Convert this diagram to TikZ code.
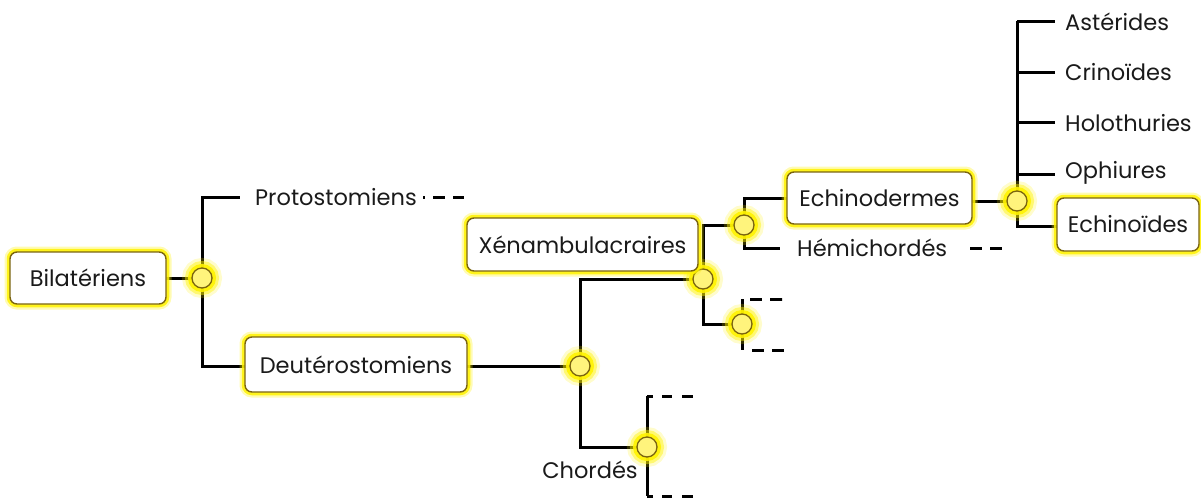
\documentclass[tikz,border=0pt]{standalone}
\usepackage{fontspec}
\setmainfont{Poppins}
\definecolor{boxedge}{HTML}{7A6410}
\definecolor{knotfill}{HTML}{FFF47C}
\definecolor{glow}{HTML}{FFF200}
\definecolor{ink}{HTML}{1A1A1A}
\newcommand{\txtfont}{\fontsize{22.5}{26}\selectfont}
\begin{document}
\begin{tikzpicture}[x=1pt,y=-1pt,
  ln/.style={line width=3pt, black},
  taxbox/.style={draw=boxedge, line width=1.4pt, fill=white, rounded corners=7pt,
    inner sep=0pt, font=\txtfont, text=ink,
    preaction={draw=glow, draw opacity=0.3, line width=11pt},
    preaction={draw=glow, draw opacity=0.85, line width=6.5pt}},
  knot/.style={circle, draw=boxedge, line width=1.3pt, fill=knotfill, minimum size=20pt, inner sep=0pt,
    preaction={draw=glow, draw opacity=0.2, line width=20pt},
    preaction={draw=glow, draw opacity=0.45, line width=14pt},
    preaction={draw=glow, draw opacity=0.9, line width=8pt}},
  lbl/.style={inner sep=0pt, anchor=west, font=\txtfont, text=ink}]
\useasboundingbox (0,0) rectangle (1201,498);
% knot positions
\coordinate (p1) at (202,278);
\coordinate (p2) at (580,366);
\coordinate (p3) at (703,279);
\coordinate (p4) at (744,225);
\coordinate (p5) at (742,324);
\coordinate (p6) at (647,447);
\coordinate (p7) at (1017,201);
% box anchors used by connectors
\coordinate (bilE) at (166,278);
\coordinate (deutW) at (245,366);
\coordinate (deutE) at (467,366);
\coordinate (echdW) at (787,198);
\coordinate (echdE) at (972,201);
\coordinate (echiW) at (1057,226);
% free ends
\coordinate (protoEnd) at (240,197);
\coordinate (hemiEnd) at (780,248);
\coordinate (t5) at (742,299);
\coordinate (b5) at (742,350);
\coordinate (t5e) at (782,299);
\coordinate (b5e) at (784,350);
\coordinate (t6) at (647,396);
\coordinate (b6) at (647,496);
\coordinate (t6e) at (693,396);
\coordinate (b6e) at (693,496);
\coordinate (top7) at (1017,21);
\coordinate (a7) at (1055,21);
\coordinate (c7) at (1055,72);
\coordinate (h7) at (1055,122);
\coordinate (o7) at (1055,174);
% connectors
\draw[ln] (bilE) -- (p1);
\draw[ln] (p1) |- (protoEnd);
\draw[ln] (p1) |- (deutW);
\draw[ln] (deutE) -- (p2);
\draw[ln] (p2) |- (p3);
\draw[ln] (p2) |- (p6);
\draw[ln] (p3) |- (p4);
\draw[ln] (p3) |- (p5);
\draw[ln] (p4) |- (echdW);
\draw[ln] (p4) |- (hemiEnd);
\draw[ln] (t5) -- (b5);
\draw[ln, dash pattern=on 0pt off 8pt on 12pt off 8pt on 12pt] (t5) -- (t5e);
\draw[ln, dash pattern=on 0pt off 10pt on 12pt off 8pt on 12pt] (b5) -- (b5e);
\draw[ln] (t6) -- (b6);
\draw[ln, dash pattern=on 6pt off 9pt on 10pt off 10pt on 11pt] (t6) -- (t6e);
\draw[ln, dash pattern=on 6pt off 9pt on 10pt off 10pt on 11pt] (b6) -- (b6e);
\draw[ln] (echdE) -- (p7);
\draw[ln] (top7) -- (a7);
\draw[ln] (top7) |- (echiW);
\draw[ln] (top7 |- c7) -- (c7);
\draw[ln] (top7 |- h7) -- (h7);
\draw[ln] (top7 |- o7) -- (o7);
% dashed continuations
\coordinate (pd1) at (423,197);
\coordinate (pd2) at (464,197);
\draw[ln, dash pattern=on 2pt off 8pt on 12pt off 8pt on 12pt] (pd1) -- (pd2);
\coordinate (hd1) at (970,248);
\coordinate (hd2) at (1002,248);
\draw[ln, dash pattern=on 12pt off 8pt on 12pt] (hd1) -- (hd2);
% knots
\foreach \k in {1,...,7} \node[knot] (k\k) at (p\k) {};
% boxes
\node[taxbox, minimum width=156pt, minimum height=52pt] (bil) at (88,278) {Bilatériens};
\node[taxbox, minimum width=222pt, minimum height=55pt] (deut) at (356,364.5) {Deutérostomiens};
\node[taxbox, minimum width=231pt, minimum height=53pt] (xen) at (582.5,244.5) {Xénambulacraires};
\node[taxbox, minimum width=185pt, minimum height=52pt] (echd) at (879.5,198) {Echinodermes};
\node[taxbox, minimum width=142pt, minimum height=53pt] (echi) at (1128,224.5) {Echinoïdes};
% plain labels
\node[lbl] (proto) at (255,197) {Protostomiens};
\node[lbl] (hemi) at (797,248) {Hémichordés};
\node[inner sep=0pt, font=\txtfont, text=ink] (chord) at (590,470) {Chordés};
\node[lbl] (aste) at (1065,22) {Astérides};
\node[lbl] (crino) at (1065,72) {Crinoïdes};
\node[lbl] (holo) at (1065,123) {Holothuries};
\node[lbl] (ophi) at (1065,173) {Ophiures};
\end{tikzpicture}
\end{document}
